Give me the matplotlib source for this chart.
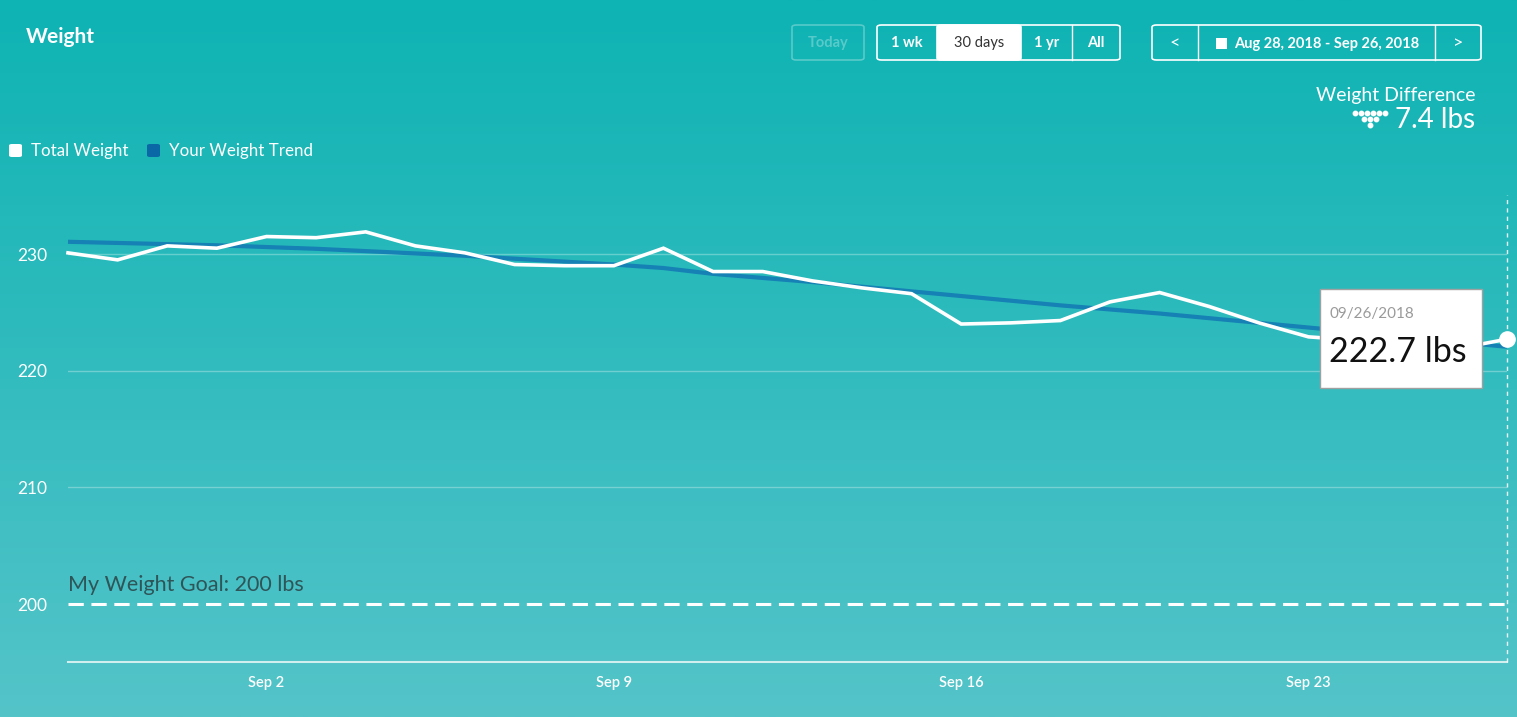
import numpy as np
import matplotlib
matplotlib.use("Agg")
import matplotlib.pyplot as plt
from matplotlib.patches import FancyBboxPatch, Rectangle

plt.rcParams['font.family'] = ['Lato', 'DejaVu Sans']

W, H = 1517, 717

# data: one reading a day, Aug 28 - Sep 26 2018
days = list(range(30))
total_weight = [230.1, 229.5, 230.7, 230.5, 231.5, 231.4, 231.9, 230.7, 230.1, 229.1,
                229.0, 229.0, 230.5, 228.5, 228.5, 227.7, 227.1, 226.6, 224.0, 224.1,
                224.3, 225.9, 226.7, 225.5, 224.1, 222.9, 222.6, 222.2, 221.9, 222.7]
weight_trend = [231.05, 230.95, 230.85, 230.75, 230.6, 230.45, 230.25, 230.05, 229.85, 229.6,
                229.35, 229.1, 228.8, 228.3, 227.95, 227.6, 227.2, 226.8, 226.4, 226.0,
                225.6, 225.25, 224.9, 224.5, 224.1, 223.7, 223.3, 222.9, 222.45, 222.05]
tick_days = [4, 11, 18, 25]
tick_labels = ['Sep 2', 'Sep 9', 'Sep 16', 'Sep 23']
y_ticks = [200, 210, 220, 230]
goal = 200

fig = plt.figure(figsize=(W / 100, H / 100), dpi=100)

# background gradient
bg = fig.add_axes([0, 0, 1, 1])
top = np.array([14, 179, 179]) / 255
bot = np.array([84, 196, 201]) / 255
t = np.linspace(0, 1, 256)[:, None]
grad = top[None, :] * (1 - t) + bot[None, :] * t
bg.imshow(grad[:, None, :], aspect='auto', extent=[0, 1, 0, 1])
bg.set_axis_off()


def px(x, y):
    return x / W, 1 - y / H


ax = fig.add_axes([68 / W, (H - 662) / H, (1507 - 68) / W, (662 - 195) / H])
ax.set_facecolor('none')
ax.set_xlim(0, 29)
ax.set_ylim(195.03, 235.06)

for y in y_ticks[1:]:
    ax.axhline(y, color='white', alpha=0.3, lw=1, zorder=1)
ax.axhline(goal, color='white', lw=2.2, dashes=(5, 2.5), zorder=2)
ax.axvline(29, color='white', lw=1, dashes=(3, 3), alpha=0.9, zorder=2, clip_on=False)

ax.plot(days, weight_trend, color='#1581b4', lw=3, zorder=3, clip_on=False,
        solid_capstyle='butt')
ax.plot(days, total_weight, color='white', lw=2.6, zorder=4, clip_on=False,
        solid_joinstyle='miter')
ax.plot(days[-1], total_weight[-1], 'o', ms=11, color='white', zorder=5, clip_on=False)

for s in ['top', 'right', 'left']:
    ax.spines[s].set_visible(False)
ax.spines['bottom'].set_color((1, 1, 1, 0.75))
ax.spines['bottom'].set_linewidth(1.5)
ax.set_xticks(tick_days)
ax.set_xticklabels(tick_labels, color='white', fontsize=10.5, fontweight='semibold')
ax.set_yticks(y_ticks)
ax.set_yticklabels([str(v) for v in y_ticks], color='white', fontsize=12.5)
ax.tick_params(axis='both', length=0)
ax.tick_params(axis='y', pad=15)
ax.tick_params(axis='x', pad=10)

ax.text(0, goal + 0.75, 'My Weight Goal: 200 lbs', color='#2e5558', fontsize=15.5,
        va='bottom', ha='left')

# title and legend
fig.text(*px(26, 37), 'Weight', color='white', fontsize=15, fontweight='bold', va='center')
fig.patches.append(FancyBboxPatch(px(9, 157), 13 / W, 13 / H, boxstyle='round,pad=0,rounding_size=0.002',
                                  transform=fig.transFigure, fc='white', ec='none'))
fig.text(*px(31, 151), 'Total Weight', color='white', fontsize=12.2, va='center')
fig.patches.append(FancyBboxPatch(px(147, 157), 13 / W, 13 / H, boxstyle='round,pad=0,rounding_size=0.002',
                                  transform=fig.transFigure, fc='#0a68a6', ec='none'))
fig.text(*px(169, 151), 'Your Weight Trend', color='white', fontsize=12.2, va='center')

# weight difference
fig.text(*px(1475, 95), 'Weight Difference', color='white', fontsize=14, ha='right', va='center')
fig.text(*px(1475, 120), '7.4 lbs', color='white', fontsize=20, ha='right', va='center')
dot_x = [1355, 1361, 1367, 1373, 1379, 1385, 1364, 1370, 1376, 1370]
dot_y = [113, 113, 113, 113, 113, 113, 119, 119, 119, 125]
fig.add_artist(plt.Line2D([x / W for x in dot_x], [1 - y / H for y in dot_y], ls='none',
                          marker='o', ms=3.2, color='white', transform=fig.transFigure))


# buttons
def button(x0, x1, label, filled=False, alpha=1.0, y0=25, y1=60):
    xa, ya = px(x0, y1)
    fig.patches.append(FancyBboxPatch((xa, ya), (x1 - x0) / W, (y1 - y0) / H,
                                      boxstyle='round,pad=0,rounding_size=0.003',
                                      transform=fig.transFigure,
                                      fc='white' if filled else 'none',
                                      ec=(1, 1, 1, alpha), lw=1.2))
    fig.text(*px((x0 + x1) / 2, (y0 + y1) / 2), label, ha='center', va='center',
             fontsize=10.5, fontweight='normal' if filled else 'bold',
             color='#333333' if filled else (1, 1, 1, alpha))


button(792, 864, 'Today', alpha=0.3)
button(877, 1120, '')
button(937, 1021, '30 days', filled=True)
for lab, a, b in [('1 wk', 877, 937), ('1 yr', 1021, 1072), ('All', 1072, 1120)]:
    fig.text(*px((a + b) / 2, 43), lab, ha='center', va='center', fontsize=10.5,
             fontweight='bold', color='white')
for xs in [1072]:
    fig.add_artist(plt.Line2D([xs / W] * 2, [1 - 25 / H, 1 - 60 / H], color='white', lw=1,
                              transform=fig.transFigure))
button(1152, 1481, '')
for xs in [1198, 1435]:
    fig.add_artist(plt.Line2D([xs / W] * 2, [1 - 25 / H, 1 - 60 / H], color='white', lw=1,
                              transform=fig.transFigure))
fig.text(*px(1175, 43), '<', ha='center', va='center', fontsize=13, color='white')
fig.text(*px(1458, 43), '>', ha='center', va='center', fontsize=13, color='white')
fig.patches.append(Rectangle(px(1216, 49), 11 / W, 11 / H, transform=fig.transFigure,
                             fc='white', ec='none'))
fig.text(*px(1327, 44), 'Aug 28, 2018 - Sep 26, 2018', ha='center', va='center',
         fontsize=10.5, fontweight='bold', color='white')

# tooltip
fig.patches.append(Rectangle(px(1320, 388), 162 / W, 99 / H, transform=fig.transFigure,
                             fc='white', ec='#a0a0a0', lw=1, zorder=10))
fig.text(*px(1330, 314), '09/26/2018', color='#9a9a9a', fontsize=11, va='center', zorder=11)
fig.text(*px(1329, 352), '222.7 lbs', color='#111111', fontsize=24.5,
         va='center', zorder=11)

fig.savefig('out.png', dpi=100)
